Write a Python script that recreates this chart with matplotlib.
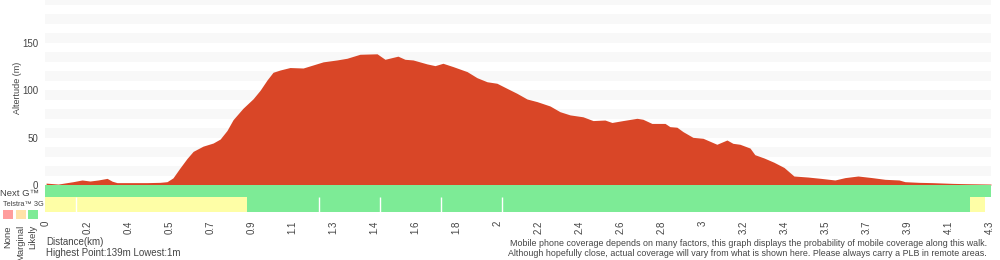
import numpy as np
import matplotlib
matplotlib.use("Agg")
import matplotlib.pyplot as plt
from matplotlib.patches import Rectangle

plt.rcParams["font.family"] = ["Liberation Sans", "DejaVu Sans"]

# distance along the walk (km) and altitude (m)
distance_km = [
    0.000, 0.055, 0.123, 0.164, 0.200, 0.237, 0.278, 0.301, 0.323, 0.369,
    0.460, 0.519, 0.551, 0.578, 0.610, 0.642, 0.670, 0.715, 0.761, 0.793,
    0.824, 0.852, 0.897, 0.943, 0.975, 1.007, 1.034, 1.066, 1.111, 1.171,
    1.216, 1.262, 1.325, 1.371, 1.385, 1.430, 1.508, 1.544, 1.603, 1.635,
    1.672, 1.736, 1.772, 1.808, 1.854, 1.918, 1.963, 2.009, 2.054, 2.100,
    2.145, 2.191, 2.237, 2.296, 2.341, 2.387, 2.446, 2.492, 2.546, 2.578,
    2.628, 2.692, 2.719, 2.760, 2.820, 2.842, 2.874, 2.902, 2.947, 2.993,
    3.056, 3.102, 3.129, 3.161, 3.207, 3.229, 3.271, 3.316, 3.362, 3.407,
    3.471, 3.530, 3.594, 3.640, 3.699, 3.763, 3.822, 3.886, 3.913, 3.977,
    4.036, 4.131, 4.191, 4.305,
]
altitude_m = [
    2.0, 1.0, 3.5, 5.3, 4.2, 5.3, 7.0, 4.0, 2.5, 2.5,
    2.5, 2.8, 3.5, 7.5, 18.0, 28.0, 35.5, 41.0, 44.3, 48.5,
    57.5, 69.0, 81.0, 91.0, 100.0, 111.0, 119.0, 121.4, 124.0, 123.5,
    126.7, 130.0, 132.0, 133.8, 134.8, 138.0, 138.5, 132.7, 136.0, 132.7,
    132.0, 127.8, 126.0, 128.5, 125.0, 119.7, 113.3, 109.0, 107.4, 102.0,
    96.8, 90.8, 88.0, 83.4, 77.4, 74.0, 72.0, 68.0, 68.6, 66.0,
    68.0, 70.4, 69.4, 65.0, 65.0, 61.6, 61.0, 56.3, 50.3, 49.3,
    43.0, 47.5, 44.0, 43.0, 39.0, 32.0, 28.5, 24.0, 18.5, 9.5,
    8.4, 7.0, 5.3, 7.8, 9.5, 7.8, 6.0, 5.3, 3.5, 2.8,
    2.5, 1.7, 1.4, 1.0,
]

tick_labels = ["0", "0.2", "0.4", "0.5", "0.7", "0.9", "1.1", "1.3", "1.4", "1.6",
               "1.8", "2", "2.2", "2.4", "2.6", "2.8", "3", "3.2", "3.4", "3.5",
               "3.7", "3.9", "4.1", "4.3"]

# coverage segments: (start km, end km, level)
nextg_segments = [(-0.005, 4.305, "Likely")]
telstra3g_segments = [
    (-0.005, 0.137, "Marginal"), (0.137, 0.915, "Marginal"),
    (0.915, 1.244, "Likely"), (1.244, 1.521, "Likely"), (1.521, 1.799, "Likely"),
    (1.799, 2.077, "Likely"), (2.077, 4.209, "Likely"), (4.209, 4.277, "Marginal"),
]

level_colors = {"None": "#ff9c9c", "Marginal": "#fefea6", "Likely": "#7deb96"}
legend_colors = {"None": "#ff9c9c", "Marginal": "#ffe2a8", "Likely": "#7deb96"}
RED = "#d94627"
TXT = "#444444"

fig = plt.figure(figsize=(10, 2.6), dpi=100)
H = 260.0
ax = fig.add_axes([0.045, 1 - 185 / H, 0.946, 185 / H])
ax.set_xlim(-0.005, 4.305)
ax.set_ylim(0, 195.3)
for lo in range(10, 200, 20):
    ax.axhspan(lo, lo + 10, color="#f8f8f8", lw=0, zorder=0)
ax.fill_between(distance_km, altitude_m, color=RED, lw=0, zorder=2)
for s in ax.spines.values():
    s.set_visible(False)
ax.set_xticks([])
ax.set_yticks([0, 50, 100, 150])
ax.tick_params(axis="y", length=0, pad=5, labelsize=7, labelcolor=TXT)
fig.text(0.018, 1 - 88 / H, "Altertude (m)", rotation=90, ha="center", va="center",
         fontsize=6.5, color=TXT)

# coverage strips
cov = fig.add_axes([0.045, 1 - 212 / H, 0.946, 27 / H])
cov.set_xlim(-0.005, 4.305)
cov.set_ylim(0, 27)
for start, end, lvl in nextg_segments:
    cov.broken_barh([(start, end - start)], (15, 12), color=level_colors[lvl], lw=0)
for start, end, lvl in telstra3g_segments:
    cov.broken_barh([(start, end - start)], (0, 15), color=level_colors[lvl], lw=0)
for i in range(1, len(telstra3g_segments)):
    if telstra3g_segments[i][2] == telstra3g_segments[i - 1][2]:
        cov.vlines(telstra3g_segments[i][0], 0, 15, color="white", lw=1)
for s in cov.spines.values():
    s.set_visible(False)
cov.set_yticks([])
cov.set_xticks(np.linspace(0, 4.3, len(tick_labels)))
cov.set_xticklabels(tick_labels, rotation=90, va="top", ha="center")
cov.tick_params(axis="x", length=0, pad=6, labelsize=7, labelcolor=TXT)

fig.text(0.0, 1 - 194 / H, "Next G\u2122", ha="left", va="center", fontsize=6.8, color=TXT)
fig.text(0.003, 1 - 204.5 / H, "Telstra\u2122 3G", ha="left", va="center", fontsize=5.3, color=TXT)
for x0, lvl in zip([3, 16, 28], ["None", "Marginal", "Likely"]):
    fig.add_artist(Rectangle((x0 / 1000, 1 - 219 / H), 9.5 / 1000, 9 / H,
                             transform=fig.transFigure, color=legend_colors[lvl], lw=0))
    fig.text((x0 + 5) / 1000, 1 - 225 / H, lvl, rotation=90, ha="center", va="top",
             fontsize=6.8, color=TXT)

fig.text(0.046, 1 - 242 / H, "Distance(km)", ha="left", va="center", fontsize=7, color=TXT)
fig.text(0.046, 1 - 253 / H, "Highest Point:139m Lowest:1m", ha="left", va="center",
         fontsize=7, color=TXT)
fig.text(0.987, 1 - 243 / H, "Mobile phone coverage depends on many factors, this graph displays "
         "the probability of mobile coverage along this walk.", ha="right", va="center",
         fontsize=6.4, color=TXT)
fig.text(0.987, 1 - 254 / H, "Although hopefully close, actual coverage will vary from what is "
         "shown here. Please always carry a PLB in remote areas.", ha="right", va="center",
         fontsize=6.4, color=TXT)

fig.savefig("out.png", dpi=100)
